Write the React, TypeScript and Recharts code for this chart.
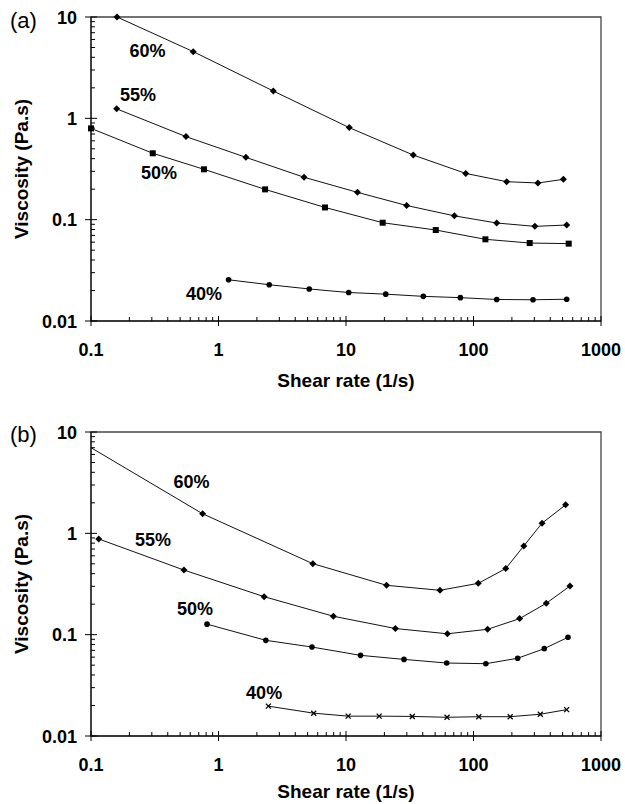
import { LineChart, Line, XAxis, YAxis, ReferenceArea, ReferenceDot } from "recharts";

const FONT = "Arial, 'Liberation Sans', Helvetica, sans-serif";

// panel (a)
const a60Rate = [0.16, 0.634, 2.69, 10.6, 33.7, 86.9, 182, 320, 507];
const a60Visc = [10, 4.55, 1.86, 0.81, 0.434, 0.286, 0.237, 0.23, 0.25];
const a55Rate = [0.159, 0.556, 1.64, 4.69, 12.3, 29.9, 70.8, 152, 303, 538];
const a55Visc = [1.24, 0.66, 0.412, 0.262, 0.186, 0.138, 0.109, 0.0927, 0.0859, 0.0885];
const a50Rate = [0.1, 0.305, 0.769, 2.32, 6.84, 19.4, 50.6, 124, 276, 558];
const a50Visc = [0.796, 0.452, 0.314, 0.199, 0.132, 0.0933, 0.079, 0.064, 0.0588, 0.058];
const a40Rate = [1.2, 2.5, 5.15, 10.5, 20.5, 40.4, 78.9, 152, 293, 538];
const a40Visc = [0.0255, 0.0228, 0.0207, 0.0191, 0.0184, 0.0175, 0.017, 0.0163, 0.0162, 0.0164];

// panel (b)
const b60Rate = [0.1, 0.751, 5.49, 20.8, 54.6, 109, 179, 248, 345, 528];
const b60Visc = [7.0, 1.56, 0.502, 0.307, 0.274, 0.321, 0.449, 0.75, 1.26, 1.91];
const b55Rate = [0.115, 0.536, 2.28, 7.96, 24.4, 62.4, 129, 230, 372, 571];
const b55Visc = [0.88, 0.434, 0.237, 0.152, 0.115, 0.102, 0.113, 0.144, 0.204, 0.302];
const b50Rate = [0.813, 2.35, 5.41, 13.0, 28.5, 61.6, 125, 222, 359, 551];
const b50Visc = [0.127, 0.0879, 0.0755, 0.0625, 0.057, 0.0525, 0.0517, 0.0585, 0.0728, 0.0942];
const b40Rate = [2.46, 5.58, 10.4, 18.2, 33.1, 62.0, 110, 194, 334, 538];
const b40Visc = [0.0197, 0.0168, 0.0157, 0.0157, 0.0156, 0.0153, 0.0155, 0.0155, 0.0164, 0.0182];

// concentration labels: [text, rate, viscosity]
const aLabels: [string, number, number][] = [
  ["60%", 0.277, 4.72],
  ["55%", 0.234, 1.7],
  ["50%", 0.341, 0.295],
  ["40%", 0.769, 0.0185],
];
const bLabels: [string, number, number][] = [
  ["60%", 0.614, 3.26],
  ["55%", 0.306, 0.873],
  ["50%", 0.655, 0.182],
  ["40%", 2.28, 0.0269],
];

const xMajor = [0.1, 1, 10, 100, 1000];
const yMajor = [0.01, 0.1, 1, 10];
const minorSteps = [2, 3, 4, 5, 6, 7, 8, 9];

const withMinors = (major: number[]) =>
  major.flatMap((m, i) => (i < major.length - 1 ? [m, ...minorSteps.map((s) => m * s)] : [m]));

const xTicks = withMinors(xMajor);
const yTicks = withMinors(yMajor);

const isMajor = (v: number) => {
  const l = Math.log10(v);
  return Math.abs(l - Math.round(l)) < 1e-6;
};

const zip = (xs: number[], ys: number[]) => xs.map((x, i) => ({ x, y: ys[i] }));

type Shape = "diamond" | "square" | "circle" | "cross";

const Marker = ({ cx, cy, shape }: { cx: number; cy: number; shape: Shape }) => {
  if (shape === "diamond")
    return (
      <polygon
        points={`${cx},${cy - 3.5} ${cx + 3.5},${cy} ${cx},${cy + 3.5} ${cx - 3.5},${cy}`}
        fill="#000"
      />
    );
  if (shape === "square") return <rect x={cx - 3} y={cy - 3} width={6} height={6} fill="#000" />;
  if (shape === "circle") return <circle cx={cx} cy={cy} r={2.8} fill="#000" />;
  return (
    <g stroke="#000" strokeWidth={1.3}>
      <line x1={cx - 2.5} y1={cy - 2.5} x2={cx + 2.5} y2={cy + 2.5} />
      <line x1={cx - 2.5} y1={cy + 2.5} x2={cx + 2.5} y2={cy - 2.5} />
    </g>
  );
};

const XTick = (props: any) => {
  const { x, y, payload } = props;
  const v = payload.value;
  if (!isMajor(v)) return <line x1={x} y1={y} x2={x} y2={y - 4} stroke="#000" />;
  return (
    <g>
      <line x1={x} y1={y - 5} x2={x} y2={y + 5} stroke="#000" />
      <text x={x} y={y + 35} textAnchor="middle" fontFamily={FONT} fontWeight={700} fontSize={18} fill="#000">
        {v}
      </text>
    </g>
  );
};

const YTick = (props: any) => {
  const { x, y, payload } = props;
  const v = payload.value;
  if (!isMajor(v)) return <line x1={x} y1={y} x2={x + 4} y2={y} stroke="#000" />;
  return (
    <g>
      <line x1={x - 6} y1={y} x2={x + 6} y2={y} stroke="#000" />
      <text x={x - 14} y={y + 6.5} textAnchor="end" fontFamily={FONT} fontWeight={700} fontSize={18} fill="#000">
        {v}
      </text>
    </g>
  );
};

const makeXTitle = (offset: number) => (props: any) => {
  const vb = props.viewBox;
  return (
    <text x={vb.x + vb.width / 2} y={vb.y + offset} textAnchor="middle" fontFamily={FONT} fontWeight={700} fontSize={19} fill="#000">
      Shear rate (1/s)
    </text>
  );
};

const yTitle = (props: any) => {
  const vb = props.viewBox;
  const cy = vb.y + vb.height / 2;
  return (
    <text
      x={28}
      y={cy}
      transform={`rotate(-90, 28, ${cy})`}
      textAnchor="middle"
      fontFamily={FONT}
      fontWeight={700}
      fontSize={19}
      fill="#000"
    >
      Viscosity (Pa.s)
    </text>
  );
};

type Series = { data: { x: number; y: number }[]; shape: Shape; skipFirst?: boolean };

const Panel = ({
  series,
  labels,
  height,
  top,
  xAxisHeight,
  titleOffset,
}: {
  series: Series[];
  labels: [string, number, number][];
  height: number;
  top: number;
  xAxisHeight: number;
  titleOffset: number;
}) => (
  <LineChart width={625} height={height} margin={{ top, right: 24, left: 0, bottom: 0 }}>
    <XAxis
      type="number"
      dataKey="x"
      scale="log"
      domain={[0.1, 1000]}
      ticks={xTicks}
      interval={0}
      tickSize={0}
      tickMargin={0}
      tickLine={false}
      axisLine={{ stroke: "#000" }}
      tick={XTick}
      height={xAxisHeight}
      label={{ content: makeXTitle(titleOffset) }}
    />
    <YAxis
      type="number"
      dataKey="y"
      scale="log"
      domain={[0.01, 10]}
      ticks={yTicks}
      interval={0}
      tickSize={0}
      tickMargin={0}
      tickLine={false}
      axisLine={{ stroke: "#000" }}
      tick={YTick}
      width={91}
      label={{ content: yTitle }}
    />
    <ReferenceArea x1={0.1} x2={1000} y1={0.01} y2={10} fill="none" stroke="#444" strokeWidth={1.3} />
    {series.map((s, i) => (
      <Line
        key={i}
        data={s.data}
        dataKey="y"
        type="linear"
        stroke="#111"
        strokeWidth={1}
        isAnimationActive={false}
        dot={(p: any) =>
          s.skipFirst && p.index === 0 ? (
            <g key={p.index} />
          ) : (
            <Marker key={p.index} cx={p.cx} cy={p.cy} shape={s.shape} />
          )
        }
        activeDot={false}
      />
    ))}
    {labels.map(([t, x, y]) => (
      <ReferenceDot
        key={t}
        x={x}
        y={y}
        r={0}
        shape={(p: any) => (
          <text
            x={p.cx}
            y={p.cy + 6.5}
            textAnchor="middle"
            fontFamily={FONT}
            fontWeight={700}
            fontSize={18}
            fill="#000"
          >
            {t}
          </text>
        )}
      />
    ))}
  </LineChart>
);

const aSeries: Series[] = [
  { data: zip(a60Rate, a60Visc), shape: "diamond" },
  { data: zip(a55Rate, a55Visc), shape: "diamond" },
  { data: zip(a50Rate, a50Visc), shape: "square" },
  { data: zip(a40Rate, a40Visc), shape: "circle" },
];

const bSeries: Series[] = [
  { data: zip(b60Rate, b60Visc), shape: "diamond", skipFirst: true },
  { data: zip(b55Rate, b55Visc), shape: "diamond" },
  { data: zip(b50Rate, b50Visc), shape: "circle" },
  { data: zip(b40Rate, b40Visc), shape: "cross" },
];

export default function App() {
  return (
    <div style={{ position: "absolute", left: 0, top: 0, width: 625, height: 804, background: "#fff" }}>
      <div style={{ position: "absolute", left: 0, top: 0 }}>
        <Panel series={aSeries} labels={aLabels} height={400} top={17} xAxisHeight={79} titleOffset={66} />
      </div>
      <div style={{ position: "absolute", left: 0, top: 400 }}>
        <Panel series={bSeries} labels={bLabels} height={404} top={32} xAxisHeight={68} titleOffset={62} />
      </div>
      <svg width={625} height={804} style={{ position: "absolute", left: 0, top: 0, pointerEvents: "none" }}>
        <text x={10} y={28} fontFamily={FONT} fontSize={22} fill="#000">
          (a)
        </text>
        <text x={10} y={442} fontFamily={FONT} fontSize={22} fill="#000">
          (b)
        </text>
      </svg>
    </div>
  );
}
